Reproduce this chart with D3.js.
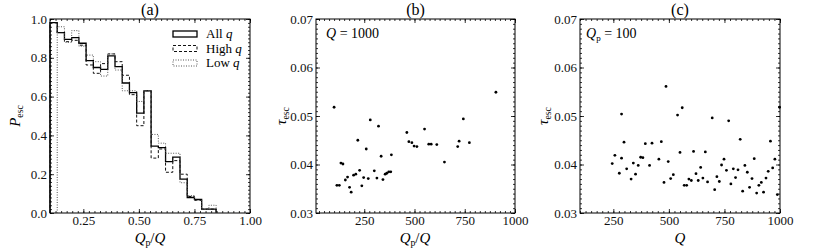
<!DOCTYPE html>
<html lang="en">
<head>
  <meta charset="UTF-8">
  <title>P_esc and tau_esc</title>
  <script src="https://d3js.org/d3.v7.min.js"></script>
  <style>
    body { margin: 0; background: #fff; }
    svg, svg text { font-family: 'Liberation Serif', 'Times New Roman', Times, serif; }
  </style>
</head>
<body>
  <script>
    const width = 830, height = 251;
    const serif = "'Liberation Serif', 'Times New Roman', Times, serif";

    // (a) histogram: left edges of the bins, plus the last right edge
    const binEdges = [0.1, 0.1325, 0.165, 0.1975, 0.23, 0.2625, 0.295, 0.3275, 0.36, 0.3925,
      0.425, 0.4575, 0.49, 0.5225, 0.555, 0.5875, 0.62, 0.6525, 0.685, 0.7175,
      0.75, 0.7825, 0.815, 0.8475];
    const allQ  = [0.981, 0.93, 0.895, 0.904, 0.875, 0.785, 0.75, 0.74, 0.81, 0.755, 0.67, 0.62,
      0.515, 0.63, 0.345, 0.337, 0.265, 0.288, 0.175, 0.08, 0.07, 0.02, 0.02];
    const highQ = [0.98, 0.93, 0.883, 0.89, 0.865, 0.763, 0.72, 0.77, 0.82, 0.78, 0.71, 0.61,
      0.45, 0.63, 0.283, 0.33, 0.21, 0.27, 0.2, 0.085, 0.065, 0.02, 0.02];
    const lowQ  = [0, 0.96, 0.88, 0.94, 0.86, 0.814, 0.78, 0.706, 0.82, 0.737, 0.63, 0.63,
      0.575, 0.63, 0.405, 0.36, 0.308, 0.308, 0.156, 0.09, 0.065, 0.02, 0.04];
    const legendLabels = ['All', 'High', 'Low'];

    // (b) Q = 1000, varying Q_p
    const bQp  = [100, 114, 126, 134, 144, 156, 167, 177, 185, 197, 208, 218, 227, 238, 247, 260,
      270, 280, 300, 313, 321, 334, 343, 354, 362, 372, 382, 385, 462, 472, 487, 498, 512,
      550, 571, 583, 611, 649, 715, 722, 743, 773, 905];
    const bTau = [0.0518, 0.0357, 0.0357, 0.0403, 0.0401, 0.0368, 0.0374, 0.0353, 0.0343, 0.0378,
      0.0380, 0.0450, 0.0388, 0.0356, 0.0373, 0.0432, 0.0371, 0.0492, 0.0387, 0.0372, 0.0479,
      0.0417, 0.0369, 0.0380, 0.0382, 0.0385, 0.0385, 0.0420, 0.0466, 0.0447, 0.0445, 0.0438,
      0.0437, 0.0473, 0.0442, 0.0442, 0.0441, 0.0405, 0.0437, 0.0448, 0.0494, 0.0445, 0.0549];

    // (c) Q_p = 100, varying Q
    const cQ   = [245, 257, 277, 287, 287, 298, 310, 330, 340, 350, 362, 373, 383, 394, 413, 424,
      455, 466, 478, 487, 497, 508, 520, 539, 550, 560, 569, 580, 590, 601, 611, 622, 632, 643,
      653, 664, 674, 695, 706, 716, 727, 737, 748, 759, 769, 779, 790, 800, 811, 821, 832, 842,
      853, 863, 874, 884, 895, 905, 916, 926, 937, 947, 957, 967, 977, 988, 998];
    const cTau = [0.0402, 0.0419, 0.0382, 0.0504, 0.0413, 0.0446, 0.0391, 0.0370, 0.0403, 0.0380,
      0.0398, 0.0415, 0.0414, 0.0443, 0.0398, 0.0444, 0.0411, 0.0447, 0.0363, 0.0561, 0.0406,
      0.0371, 0.0379, 0.0502, 0.0425, 0.0517, 0.0357, 0.0357, 0.0370, 0.0367, 0.0427, 0.0381,
      0.0367, 0.0394, 0.0372, 0.0426, 0.0364, 0.0496, 0.0348, 0.0375, 0.0365, 0.0399, 0.0411,
      0.0388, 0.0490, 0.0360, 0.0391, 0.0373, 0.0389, 0.0452, 0.0345, 0.0398, 0.0384, 0.0353,
      0.0371, 0.0412, 0.0341, 0.0357, 0.0363, 0.0343, 0.0372, 0.0386, 0.0448, 0.0393, 0.0411,
      0.0338, 0.0518];

    const aXTicks = [0.25, 0.5, 0.75, 1.0];
    const aYTicks = [0, 0.2, 0.4, 0.6, 0.8, 1.0];
    const qTicks = [250, 500, 750, 1000];
    const tauTicks = [0.03, 0.04, 0.05, 0.06, 0.07];

    const yTop = 19, yBottom = 213;

    const svg = d3.select('body')
      .append('svg')
      .attr('width', width)
      .attr('height', height)
      .attr('font-family', serif);

    function frame(x, y, o) {
      const g = svg.append('g');
      const [x0, x1] = x.range();
      const [y1, y0] = y.range();
      const add = (axis, tx, ty) => g.append('g')
        .attr('transform', `translate(${tx},${ty})`)
        .call(axis)
        .attr('font-family', serif)
        .attr('font-size', 13);

      add(d3.axisBottom(x).tickValues(o.xt).tickFormat(o.xf).tickSizeInner(-4).tickSizeOuter(0).tickPadding(3), 0, y1);
      add(d3.axisBottom(x).tickValues(o.xm).tickFormat('').tickSize(-2), 0, y1);
      add(d3.axisTop(x).tickValues(o.xt).tickFormat('').tickSize(-4), 0, y0);
      add(d3.axisTop(x).tickValues(o.xm).tickFormat('').tickSize(-2), 0, y0);
      add(d3.axisLeft(y).tickValues(o.yt).tickFormat(o.yf).tickSizeInner(-4).tickSizeOuter(0).tickPadding(3), x0, 0);
      add(d3.axisLeft(y).tickValues(o.ym).tickFormat('').tickSize(-2), x0, 0);
      add(d3.axisRight(y).tickValues(o.yt).tickFormat('').tickSize(-4), x1, 0);
      add(d3.axisRight(y).tickValues(o.ym).tickFormat('').tickSize(-2), x1, 0);

      g.selectAll('.domain').remove();
      g.selectAll('.tick line').attr('stroke-width', 0.8);
      g.selectAll('.tick text').attr('fill', '#111');

      g.append('rect')
        .attr('x', x0).attr('y', y0)
        .attr('width', x1 - x0).attr('height', y1 - y0)
        .attr('fill', 'none').attr('stroke', '#000').attr('stroke-width', 1);

      svg.append('text')
        .attr('x', (x0 + x1) / 2).attr('y', 15)
        .attr('text-anchor', 'middle').attr('font-size', 16)
        .text(o.title);
      return g;
    }

    // label helper: italic symbol with upright subscript, optional tail
    function label(sel, main, sub, tail, size) {
      sel.attr('font-size', size);
      sel.append('tspan').attr('font-style', 'italic').text(main);
      sel.append('tspan').attr('font-size', size * 0.65).attr('dy', 3).text(sub);
      if (tail) {
        sel.append('tspan').attr('dy', -3).text(tail[0]);
        sel.append('tspan').attr('font-style', 'italic').text(tail[1]);
      }
    }

    // ---------- (a)
    const xa = d3.scaleLinear().domain([0.1, 1.0]).range([50, 250]);
    const ya = d3.scaleLinear().domain([0, 1]).range([yBottom, yTop]);
    frame(xa, ya, {
      xt: aXTicks, xf: d3.format('.2f'), xm: d3.range(0.1, 1.0001, 0.025),
      yt: aYTicks, yf: d3.format('.1f'), ym: d3.range(0, 1.0001, 0.02),
      title: '(a)'
    });

    const styles = [
      { dash: null, w: 1.3, c: '#000' },
      { dash: '3,2', w: 1, c: '#111' },
      { dash: '1,1.5', w: 1, c: '#555' }
    ];

    const stepLine = d3.line().x(d => xa(d[0])).y(d => ya(d[1]));
    function steps(vals) {
      const pts = [];
      const start = vals.findIndex(v => v > 0);
      pts.push([binEdges[start], 0]);
      for (let i = start; i < vals.length; i++) {
        pts.push([binEdges[i], vals[i]], [binEdges[i + 1], vals[i]]);
      }
      pts.push([binEdges[vals.length], 0]);
      return pts;
    }

    [allQ, highQ, lowQ].forEach((vals, i) => {
      svg.append('path')
        .attr('d', stepLine(steps(vals)))
        .attr('fill', 'none')
        .attr('stroke', styles[i].c)
        .attr('stroke-width', styles[i].w)
        .attr('stroke-dasharray', styles[i].dash);
    });

    const leg = svg.append('g').attr('transform', 'translate(173,31)');
    legendLabels.forEach((name, i) => {
      leg.append('rect')
        .attr('x', 0).attr('y', i * 14.5)
        .attr('width', 24).attr('height', 6)
        .attr('fill', 'none')
        .attr('stroke', styles[i].c)
        .attr('stroke-width', styles[i].w)
        .attr('stroke-dasharray', styles[i].dash);
      const t = leg.append('text').attr('x', 33).attr('y', i * 14.5 + 7).attr('font-size', 13);
      t.append('tspan').text(name + ' ');
      t.append('tspan').attr('font-style', 'italic').text('q');
    });

    svg.append('text').attr('x', 150).attr('y', 243).attr('text-anchor', 'middle')
      .call(label, 'Q', 'p', ['/', 'Q'], 15);
    svg.append('text').attr('transform', 'translate(20,116) rotate(-90)').attr('text-anchor', 'middle')
      .call(label, 'P', 'esc', null, 15);

    // ---------- (b) and (c)
    function scatterPanel(xs, xsArr, ysArr, title, yLabelX) {
      const ys = d3.scaleLinear().domain([0.03, 0.07]).range([yBottom, yTop]);
      frame(xs, ys, {
        xt: qTicks, xf: d3.format('d'), xm: d3.range(0, 1001, 25).filter(v => v >= xs.domain()[0]),
        yt: tauTicks, yf: d3.format('.2f'), ym: d3.range(30, 70.5, 1).map(v => v / 1000),
        title: title
      });
      svg.append('g').selectAll('circle')
        .data(xsArr)
        .join('circle')
        .attr('cx', d => xs(d))
        .attr('cy', (d, i) => ys(ysArr[i]))
        .attr('r', 1.4)
        .attr('fill', '#000');
      svg.append('text').attr('transform', `translate(${yLabelX},116) rotate(-90)`).attr('text-anchor', 'middle')
        .call(label, 'τ', 'esc', null, 15);
      return ys;
    }

    const xb = d3.scaleLinear().domain([10, 1000]).range([316, 515]);
    scatterPanel(xb, bQp, bTau, '(b)', 286);
    svg.append('text').attr('x', 415).attr('y', 243).attr('text-anchor', 'middle')
      .call(label, 'Q', 'p', ['/', 'Q'], 15);
    svg.append('text').attr('x', 326).attr('y', 38).attr('font-size', 14)
      .call(t => {
        t.append('tspan').attr('font-style', 'italic').text('Q');
        t.append('tspan').text(' = 1000');
      });

    const xc = d3.scaleLinear().domain([100, 1000]).range([580, 780]);
    scatterPanel(xc, cQ, cTau, '(c)', 548);
    svg.append('text').attr('x', 680).attr('y', 243).attr('text-anchor', 'middle').attr('font-size', 15)
      .attr('font-style', 'italic').text('Q');
    svg.append('text').attr('x', 586).attr('y', 38).attr('font-size', 14)
      .call(t => {
        t.append('tspan').attr('font-style', 'italic').text('Q');
        t.append('tspan').attr('font-size', 9).attr('dy', 3).text('p');
        t.append('tspan').attr('dy', -3).text(' = 100');
      });
  </script>
</body>
</html>
